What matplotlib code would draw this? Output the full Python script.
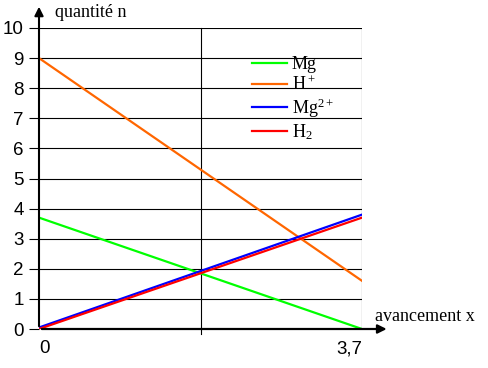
import matplotlib.pyplot as plt

# avancement x (mol) aux deux extrémités
x = [0, 3.7]

# quantités de matière n (mol)
n_mg = [3.7, 0.0]
n_h = [9.0, 1.6]
n_mg2 = [0.05, 3.8]
n_h2 = [0.0, 3.7]

y_ticks = list(range(0, 11))
x_mid = 1.85

plt.rcParams['font.family'] = ['Liberation Sans', 'DejaVu Sans']
plt.rcParams['mathtext.fontset'] = 'custom'
plt.rcParams['mathtext.rm'] = 'Liberation Serif'
plt.rcParams['mathtext.it'] = 'Liberation Serif'

fig = plt.figure(figsize=(4.88, 3.68), dpi=100)
ax = fig.add_axes([39 / 488, 39 / 368, 323 / 488, 301 / 368])

# quadrillage horizontal
for v in y_ticks[1:]:
    ax.axhline(v, color='black', lw=0.8, zorder=1)
ax.axvline(x_mid, ymin=-5 / 301, ymax=1, color='black', lw=0.8, clip_on=False, zorder=1)
ax.axvline(3.7, color='black', lw=0.8, zorder=1)

ax.plot(x, n_mg, color='#00ff00', lw=1.6, label='Mg', zorder=3)
ax.plot(x, n_h, color='#ff6600', lw=1.6, label='H$^+$', zorder=3)
ax.plot(x, n_mg2, color='#0000ff', lw=1.6, label='Mg$^{2+}$', zorder=3)
ax.plot(x, n_h2, color='#ff0000', lw=1.6, label='H$_2$', zorder=3)

ax.set_xlim(0, 3.7)
ax.set_ylim(0, 10)
for s in ax.spines.values():
    s.set_visible(False)

ax.set_yticks(y_ticks)
ax.tick_params(axis='y', length=7, width=0.8, labelsize=13.5, pad=4)
ax.set_xticks([0, 3.7])
ax.set_xticklabels(['0', '3,7'], fontsize=13.5)
ax.tick_params(axis='x', length=0, pad=8)
ax.get_xticklabels()[0].set_horizontalalignment('left')
ax.get_xticklabels()[1].set_horizontalalignment('right')

# axes fléchés
ax.annotate('', xy=(0, 1.08), xytext=(0, 0), xycoords='axes fraction',
            arrowprops=dict(arrowstyle='-|>', color='black', lw=1.5, mutation_scale=13))
ax.annotate('', xy=(1.085, 0), xytext=(0, 0), xycoords='axes fraction',
            arrowprops=dict(arrowstyle='-|>', color='black', lw=1.6, mutation_scale=13))

ax.text(0.05, 1.053, 'quantité n', transform=ax.transAxes, fontsize=13,
        family='Liberation Serif', va='center')
ax.text(1.04, 0.04, 'avancement x', transform=ax.transAxes, fontsize=13,
        family='Liberation Serif', va='center')

leg = ax.legend(loc='upper left', bbox_to_anchor=(0.61, 0.96), frameon=False,
                prop={'family': 'Liberation Serif', 'size': 13},
                handlelength=1.9, handletextpad=0.3, labelspacing=0.12)

fig.savefig('out.png', dpi=100)
